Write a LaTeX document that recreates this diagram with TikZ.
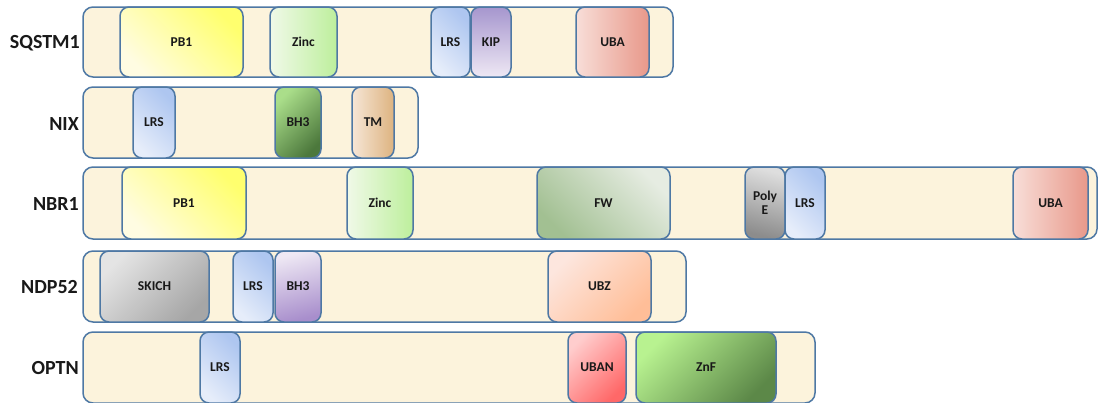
\documentclass[tikz,border=0pt]{standalone}
\usepackage{fontspec}
\setmainfont{Carlito}
\definecolor{bd}{HTML}{4E78A4}
\definecolor{cream}{HTML}{FCF3DC}
\definecolor{pbA}{HTML}{FFFF6E}\definecolor{pbB}{HTML}{FFFCE2}
\definecolor{znA}{HTML}{BDEF9C}\definecolor{znB}{HTML}{F0F9E8}
\definecolor{lrA}{HTML}{AEC6F0}\definecolor{lrB}{HTML}{E6EDFA}
\definecolor{ubA}{HTML}{E8988A}\definecolor{ubB}{HTML}{F8DED8}
\definecolor{kpA}{HTML}{A696CE}\definecolor{kpB}{HTML}{EEE8F4}
\definecolor{bhA}{HTML}{AADE8A}\definecolor{bhB}{HTML}{4C783C}
\definecolor{tmA}{HTML}{DDB380}\definecolor{tmB}{HTML}{F6E6D6}
\definecolor{fwA}{HTML}{E6ECE2}\definecolor{fwB}{HTML}{A2C092}
\definecolor{peA}{HTML}{DEDEDE}\definecolor{peB}{HTML}{8C8C8C}
\definecolor{skA}{HTML}{E4E4E4}\definecolor{skB}{HTML}{A6A6A6}
\definecolor{bpA}{HTML}{EEE8F4}\definecolor{bpB}{HTML}{A88ECC}
\definecolor{uzA}{HTML}{FDE6DE}\definecolor{uzB}{HTML}{FFBE98}
\definecolor{unA}{HTML}{FFCDCD}\definecolor{unB}{HTML}{FF6868}
\definecolor{zfA}{HTML}{B8F290}\definecolor{zfB}{HTML}{5C8848}
\begin{document}
\begin{tikzpicture}[x=1pt,y=-1pt,
  bar/.style={draw=bd, line width=1.5pt, rounded corners=10pt, fill=cream, inner sep=0pt},
  dom/.style={draw=bd, line width=1.5pt, rounded corners=9pt, inner sep=0pt, font=\bfseries\fontsize{13.5}{13.5}\selectfont, text=black!90, align=center},
  wh/.style 2 args={minimum width=#1pt, minimum height=#2pt},
  gr/.style n args={3}{top color=#1, bottom color=#2, shading angle=#3},
  lab/.style={font=\bfseries\fontsize{20}{22}\selectfont, anchor=east, text=black!90, inner sep=0pt},
  pb/.style={gr={pbA}{pbB}{-45}},
  zinc/.style={gr={znA}{znB}{-90}},
  lrs/.style={gr={lrA}{lrB}{-45}},
  uba/.style={gr={ubA}{ubB}{-90}},
]
\useasboundingbox (0,0) rectangle (1100,402);
% bars
\node[bar, wh={590}{70}] (bar1) at (378,42) {};
\node[bar, wh={335}{71}] (bar2) at (250.5,122.5) {};
\node[bar, wh={1014}{72}] (bar3) at (590,203) {};
\node[bar, wh={603}{71}] (bar4) at (384.5,286.5) {};
\node[bar, wh={732}{71}] (bar5) at (449,367.5) {};
% labels
\node[lab] (l1) at (80,43) {SQSTM1};
\node[lab] (l2) at (79,124) {NIX};
\node[lab] (l3) at (79,204) {NBR1};
\node[lab] (l4) at (78,287) {NDP52};
\node[lab] (l5) at (79,368) {OPTN};
% row 1
\node[dom, pb, wh={123}{70}] (pb1a) at (181.5,42) {PB1};
\node[dom, zinc, wh={67}{70}] (zinca) at (303.5,42) {Zinc};
\node[dom, lrs, wh={39}{70}] (lrs1) at (450.5,42) {LRS};
\node[dom, gr={kpA}{kpB}{0}, wh={40}{70}] (kip) at (491,42) {KIP};
\node[dom, uba, wh={73}{70}] (uba1) at (612.5,42) {UBA};
% row 2
\node[dom, lrs, wh={42}{71}] (lrs2) at (154,122.5) {LRS};
\node[dom, gr={bhA}{bhB}{45}, wh={46}{71}] (bh3a) at (298,122.5) {BH3};
\node[dom, gr={tmA}{tmB}{-90}, wh={42}{71}] (tm) at (373,122.5) {TM};
% row 3
\node[dom, pb, wh={124}{72}] (pb1b) at (184,203) {PB1};
\node[dom, zinc, wh={66}{72}] (zincb) at (380,203) {Zinc};
\node[dom, gr={fwA}{fwB}{-45}, wh={133}{72}] (fw) at (603.5,203) {FW};
\node[dom, gr={peA}{peB}{-15}, wh={40}{72}] (polye) at (765,203) {Poly\\[1pt]E};
\node[dom, lrs, wh={40}{72}] (lrs3) at (805,203) {LRS};
\node[dom, uba, wh={75}{72}] (uba3) at (1050.5,203) {UBA};
% row 4
\node[dom, gr={skA}{skB}{45}, wh={109}{71}] (skich) at (154.5,286.5) {SKICH};
\node[dom, lrs, wh={40}{71}] (lrs4) at (253,286.5) {LRS};
\node[dom, gr={bpA}{bpB}{15}, wh={46}{71}] (bh3b) at (298,286.5) {BH3};
\node[dom, gr={uzA}{uzB}{45}, wh={103}{71}] (ubz) at (599.5,286.5) {UBZ};
% row 5
\node[dom, lrs, wh={40}{71}] (lrs5) at (220,367.5) {LRS};
\node[dom, gr={unA}{unB}{45}, wh={58}{71}] (uban) at (597,367.5) {UBAN};
\node[dom, gr={zfA}{zfB}{45}, wh={140}{71}] (znf) at (706,367.5) {ZnF};
\end{tikzpicture}
\end{document}
